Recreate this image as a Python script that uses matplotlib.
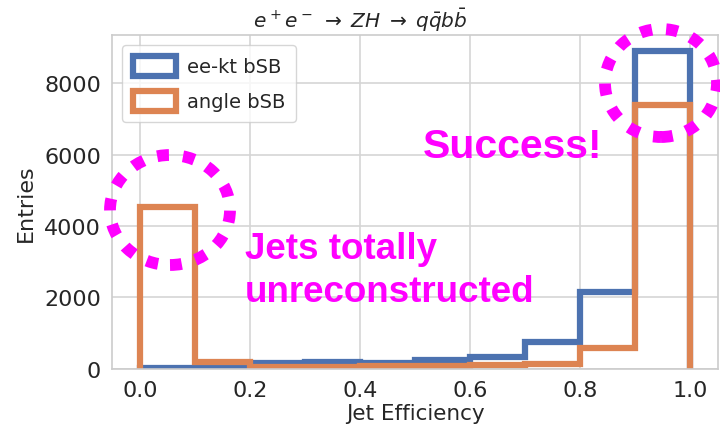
import numpy as np
import matplotlib
matplotlib.use("Agg")
import matplotlib.pyplot as plt
from matplotlib.patches import Ellipse

# histogram bins and per-bin entries
bin_edges = np.linspace(0.0, 1.0, 11)
eekt_counts = [25, 25, 160, 185, 160, 240, 330, 750, 2150, 8900]
angle_counts = [4530, 180, 60, 60, 65, 90, 100, 140, 570, 7380]
series_labels = ["ee-kt bSB", "angle bSB"]
series_colors = ["#4c72b0", "#dd8452"]

plt.rcParams.update({
    "font.family": "DejaVu Sans",
    "axes.edgecolor": "#cccccc",
    "axes.linewidth": 1.2,
    "grid.color": "#d5d5d5",
    "grid.linewidth": 1.2,
    "text.color": "#262626",
    "xtick.color": "#262626",
    "ytick.color": "#262626",
    "axes.labelcolor": "#262626",
})

fig = plt.figure(figsize=(7.2, 4.31), dpi=100)
ax = fig.add_axes([0.156, 0.142, 0.841, 0.774])

centers = 0.5 * (bin_edges[:-1] + bin_edges[1:])
for counts, lab, col in zip([eekt_counts, angle_counts], series_labels, series_colors):
    ax.hist(centers, bins=bin_edges, weights=counts, histtype="step",
            linewidth=4.5, color=col, label=lab)

ax.set_axisbelow(True)
ax.grid(True)
ax.set_xticks([0.0, 0.2, 0.4, 0.6, 0.8, 1.0])
ax.set_yticks([0, 2000, 4000, 6000, 8000])
ax.tick_params(labelsize=16, length=0, pad=8)
ax.set_xlabel("Jet Efficiency", fontsize=15.5, labelpad=2)
ax.set_ylabel("Entries", fontsize=16, labelpad=6)
ax.set_title(r"$e^+e^-\;\rightarrow\;ZH\;\rightarrow\;q\bar{q}b\bar{b}$", fontsize=14.5,
             pad=6, x=0.41)

leg = ax.legend(loc="upper left", fontsize=14, frameon=True, handlelength=2.2,
                handleheight=1.2, handletextpad=0.6, borderpad=0.55, labelspacing=0.75)
leg.get_frame().set_edgecolor("#cccccc")

magenta = "#ff00ff"
fig.text(423 / 720, 1 - 158 / 431, "Success!", color=magenta, fontsize=29.5,
         fontweight="bold", family="Liberation Sans", ha="left", va="baseline")
fig.text(245 / 720, 1 - 302 / 431, "Jets totally\nunreconstructed", color=magenta,
         fontsize=26.5, fontweight="bold", family="Liberation Sans", ha="left",
         va="baseline", linespacing=1.3)

for cx, cy, w, h in [(170, 211, 120, 110), (661, 84, 112, 108)]:
    ell = Ellipse((cx / 720, 1 - cy / 431), w / 720, h / 431, transform=fig.transFigure,
                  fill=False, edgecolor=magenta, linewidth=8.5, linestyle=(0, (1.0, 1.2)),
                  clip_on=False)
    fig.patches.append(ell)

fig.savefig("out.png", dpi=100)
